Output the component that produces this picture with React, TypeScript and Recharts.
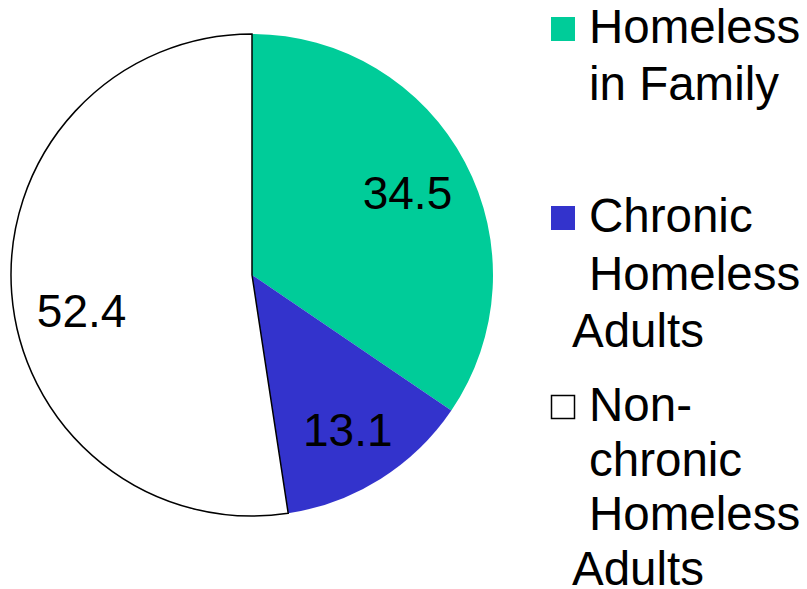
import React from 'react';
import { PieChart, Pie, Cell, Legend } from 'recharts';

const categories = ['Homeless in Family', 'Chronic Homeless Adults', 'Non-chronic Homeless Adults'];
const values = [34.5, 13.1, 52.4];
const colors = ['#00CC99', '#3333CC', '#FFFFFF'];
const legendLines = [
  ['Homeless', 'in Family'],
  ['Chronic', 'Homeless', 'Adults'],
  ['Non-', 'chronic', 'Homeless', 'Adults'],
];

const data = categories.map((name, i) => ({ name, value: values[i] }));

const W = 807;
const H = 589;
const CX = 252;
const CY = 275;
const R = 241;
const FONT = '"Liberation Sans", Arial, sans-serif';

// label layout nudges (dx, dy) in px, per slice
const labelNudge = [
  [0, 0],
  [2, 6],
  [5, 23],
];

const RAD = Math.PI / 180;

const renderLabel = (props: any) => {
  const { cx, cy, midAngle, outerRadius, value, index } = props;
  const r = outerRadius * 0.73;
  const x = cx + r * Math.cos(-midAngle * RAD) + labelNudge[index][0];
  const y = cy + r * Math.sin(-midAngle * RAD) + labelNudge[index][1];
  return (
    <text x={x} y={y} textAnchor="middle" dominantBaseline="central" fill="#000" fontSize={46} fontFamily={FONT}>
      {value.toFixed(1)}
    </text>
  );
};

const legendBaselines = [43, 232, 421];
const lineGaps = [57, 57.5, 54.5];

const renderLegend = () => (
  <svg width={W} height={H} style={{ position: 'absolute', left: 0, top: 0 }}>
    {legendLines.map((lines, g) => {
      const b = legendBaselines[g];
      return (
        <g key={g}>
          <rect
            x={551.5}
            y={b - 25.5}
            width={23}
            height={23}
            fill={colors[g]}
            stroke={g === 2 ? '#000' : colors[g]}
            strokeWidth={g === 2 ? 1.5 : 1}
          />
          {lines.map((t, i) => (
            <text
              key={i}
              x={i === lines.length - 1 && g > 0 ? 572 : 589}
              y={b + i * lineGaps[g]}
              fontSize={47.5}
              fontFamily={FONT}
              fill="#000"
            >
              {t}
            </text>
          ))}
        </g>
      );
    })}
  </svg>
);

export default function App() {
  return (
    <div style={{ position: 'absolute', left: 0, top: 0, width: W, height: H, background: '#fff' }}>
      <PieChart width={W} height={H} margin={{ top: 0, right: 0, bottom: 0, left: 0 }}>
        <Pie
          data={data}
          dataKey="value"
          nameKey="name"
          cx={CX}
          cy={CY}
          outerRadius={R}
          innerRadius={0}
          startAngle={90}
          endAngle={-270}
          label={renderLabel}
          labelLine={false}
          isAnimationActive={false}
        >
          {data.map((d, i) => (
            <Cell
              key={d.name}
              fill={colors[i]}
              stroke={i === 2 ? '#000' : colors[i]}
              strokeWidth={i === 2 ? 1.5 : 0}
            />
          ))}
        </Pie>
        <Legend
          layout="horizontal"
          verticalAlign="middle"
          align="center"
          wrapperStyle={{ left: 0, top: 0, width: W, height: H }}
          content={renderLegend}
        />
      </PieChart>
    </div>
  );
}
